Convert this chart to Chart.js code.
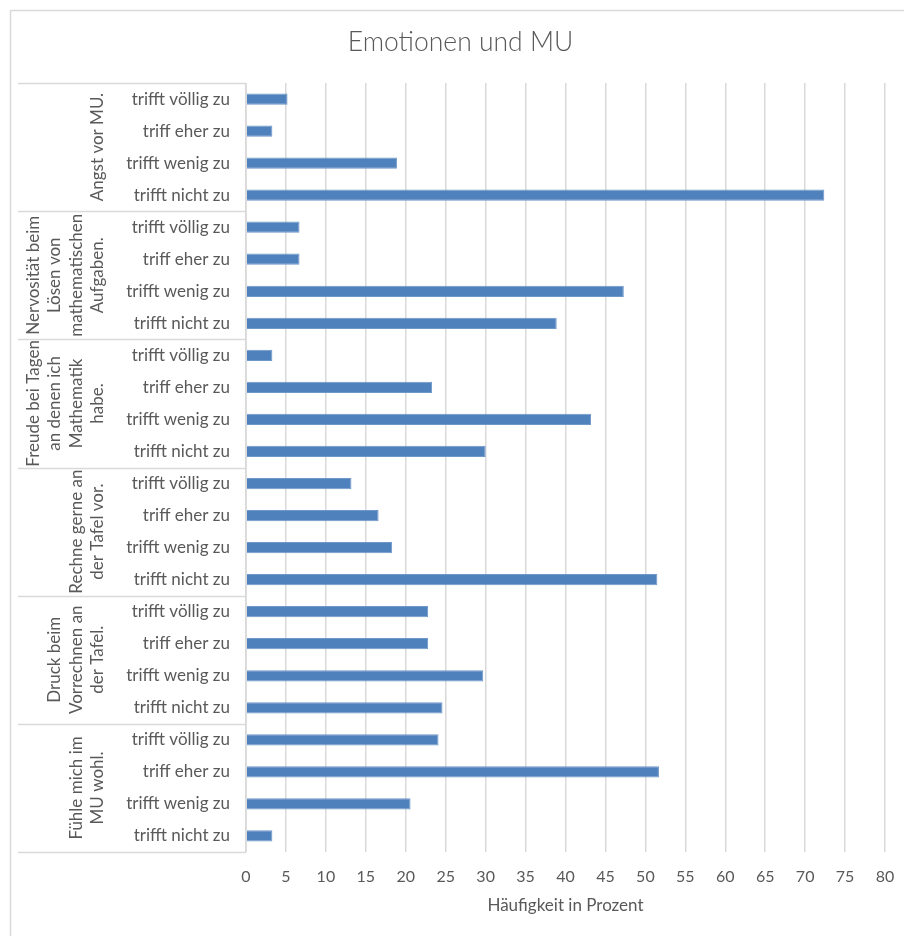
<!DOCTYPE html>
<html>
<head>
<meta charset="utf-8">
<title>Emotionen und MU</title>
<script src="https://cdn.jsdelivr.net/npm/chart.js@4.4.1/dist/chart.umd.min.js"></script>
<style>
  html, body { margin: 0; padding: 0; background: #ffffff; }
  #wrap { width: 904px; height: 936px; position: relative; }
</style>
</head>
<body>
<div id="wrap"><canvas id="chart" width="904" height="936"></canvas></div>
<script>
// Answer options, listed top to bottom within each statement
const responses = ["trifft völlig zu", "triff eher zu", "trifft wenig zu", "trifft nicht zu"];

// Statements (outer category level), with their line breaks
const statements = [
  ["Angst vor MU."],
  ["Nervosität beim", "Lösen von", "mathematischen", "Aufgaben."],
  ["Freude bei Tagen", "an denen ich", "Mathematik", "habe."],
  ["Rechne gerne an", "der Tafel vor."],
  ["Druck beim", "Vorrechnen an", "der Tafel."],
  ["Fühle mich im", "MU wohl."]
];

// Share of answers in percent, in the order of `responses`
const angstVorMU     = [5.2, 3.3, 18.9, 72.4];
const nervositaet    = [6.7, 6.7, 47.3, 38.9];
const freudeMathe    = [3.3, 23.3, 43.2, 30.0];
const rechneAnTafel  = [13.2, 16.6, 18.3, 51.5];
const druckAnTafel   = [22.8, 22.8, 29.7, 24.6];
const wohlImMU       = [24.1, 51.7, 20.6, 3.3];

// Value axis
const axisMin = 0;
const axisMax = 80;
const axisStep = 5;

const seriesByStatement = [angstVorMU, nervositaet, freudeMathe, rechneAnTafel, druckAnTafel, wohlImMU];
const labels = [];
const values = [];
seriesByStatement.forEach(series => {
  series.forEach((v, i) => { labels.push(responses[i]); values.push(v); });
});

const TEXT = '#595959';
const LINE = '#d9d9d9';
const FONT = 'Lato, "Open Sans", sans-serif';

// Outer frame and the two-level category axis on the left
const groupAxis = {
  id: 'groupAxis',
  beforeDraw(chart) {
    const ctx = chart.ctx;
    ctx.save();
    ctx.strokeStyle = LINE;
    ctx.lineWidth = 1.5;
    ctx.beginPath();
    ctx.moveTo(10.5, chart.height);
    ctx.lineTo(10.5, 10.5);
    ctx.lineTo(chart.width, 10.5);
    ctx.stroke();
    ctx.restore();
  },
  afterDraw(chart) {
    const ctx = chart.ctx;
    const y = chart.scales.y;
    const left = chart.chartArea.left;
    const per = responses.length;
    const half = (y.getPixelForValue(1) - y.getPixelForValue(0)) / 2;
    ctx.save();
    ctx.strokeStyle = LINE;
    ctx.lineWidth = 1.5;
    const bounds = [];
    for (let g = 0; g <= statements.length; g++) {
      let py;
      if (g === 0) py = y.getPixelForValue(0) - half;
      else if (g === statements.length) py = y.getPixelForValue(labels.length - 1) + half;
      else py = (y.getPixelForValue(g * per - 1) + y.getPixelForValue(g * per)) / 2;
      bounds.push(py);
      ctx.beginPath();
      ctx.moveTo(18, Math.round(py) + 0.5);
      ctx.lineTo(left, Math.round(py) + 0.5);
      ctx.stroke();
    }
    ctx.beginPath();
    ctx.moveTo(left, bounds[0]);
    ctx.lineTo(left, bounds[bounds.length - 1]);
    ctx.stroke();

    ctx.fillStyle = TEXT;
    ctx.font = '17px ' + FONT;
    ctx.textAlign = 'center';
    ctx.textBaseline = 'middle';
    const lastLineX = 98;
    const lineGap = 21.5;
    statements.forEach((lines, g) => {
      const cy = (bounds[g] + bounds[g + 1]) / 2;
      const n = lines.length;
      lines.forEach((txt, k) => {
        const lx = lastLineX - (n - 1 - k) * lineGap;
        ctx.save();
        ctx.translate(lx, cy);
        ctx.rotate(-Math.PI / 2);
        ctx.fillText(txt, 0, 0);
        ctx.restore();
      });
    });
    ctx.restore();
  }
};

new Chart(document.getElementById('chart'), {
  type: 'bar',
  data: {
    labels: labels,
    datasets: [{
      data: values,
      backgroundColor: '#4f81bd',
      borderColor: '#6f97c9',
      borderWidth: 1,
      categoryPercentage: 1,
      barPercentage: 0.35
    }]
  },
  options: {
    indexAxis: 'y',
    responsive: false,
    animation: false,
    devicePixelRatio: 1,
    layout: { padding: { left: 36, right: 19, top: 0, bottom: 0 } },
    plugins: {
      legend: { display: false },
      tooltip: { enabled: false },
      title: {
        display: true,
        text: 'Emotionen und MU',
        color: TEXT,
        font: { family: FONT, size: 26.5, weight: 300 },
        padding: { top: 27, bottom: 24.2 }
      }
    },
    scales: {
      x: {
        type: 'linear',
        position: 'bottom',
        min: axisMin,
        max: axisMax,
        ticks: { stepSize: axisStep, color: TEXT, font: { family: FONT, size: 16 }, padding: 15.4 },
        grid: { color: LINE, lineWidth: 1.5, drawTicks: false },
        border: { display: false },
        title: {
          display: true,
          text: 'Häufigkeit in Prozent',
          color: TEXT,
          font: { family: FONT, size: 17 },
          padding: { top: 0, bottom: 19.8 }
        },
        afterFit(scale) {
          scale.height = 84;
          scale.paddingLeft = 0;
          scale.paddingRight = 0;
        }
      },
      y: {
        type: 'category',
        ticks: { color: TEXT, font: { family: FONT, size: 17 }, padding: 16, autoSkip: false },
        grid: { display: false, drawTicks: false },
        border: { display: false },
        afterFit(scale) { scale.width = 210; }
      }
    }
  },
  plugins: [groupAxis]
});
</script>
</body>
</html>
